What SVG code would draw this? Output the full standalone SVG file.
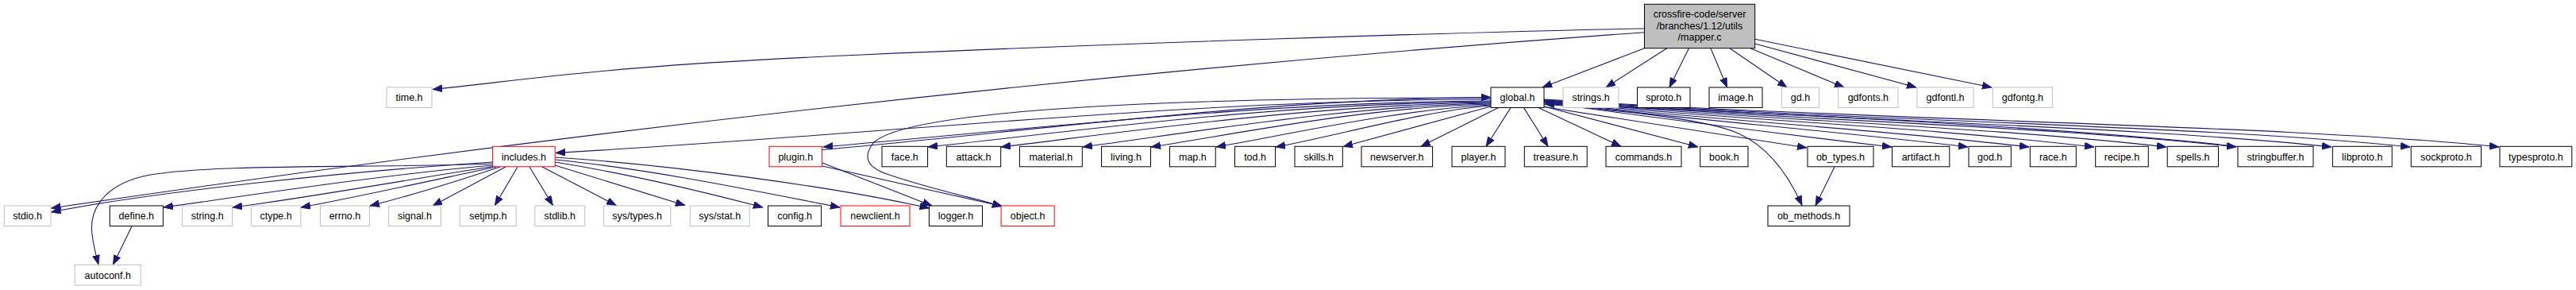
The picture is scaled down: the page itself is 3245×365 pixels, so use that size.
<svg xmlns="http://www.w3.org/2000/svg" width="3245" height="365" viewBox="0 0 3245 365">
<style>
rect{fill:#fff;stroke:#000;stroke-width:1}
.g rect{stroke:#bfbfbf}
.r rect{stroke:#ff0000}
.m rect{fill:#bfbfbf;stroke:#000}
text{font-family:"Liberation Sans",Arial,sans-serif;font-size:12.5px;text-anchor:middle;fill:#000}
#edges path{fill:none;stroke:#191970;stroke-width:1.1;marker-end:url(#a)}
</style>
<defs>
<marker id="a" markerUnits="userSpaceOnUse" markerWidth="13" markerHeight="10" refX="12" refY="4.5" orient="auto"><path d="M0,0 L12,4.5 L0,9 z" fill="#191970" stroke="#191970" stroke-width="0.8"/></marker>
</defs>
<rect x="0" y="0" width="3245" height="365" style="fill:#fff;stroke:none"/>
<g id="edges">
<path d="M2071.5,36 C1850,40 1400,55 1085,69 S700,96 545,112.5"/>
<path d="M2071.5,40.7 Q1100,110 64.5,262"/>
<path d="M2071.5,60.7 L1943,110"/>
<path d="M2099.7,60.7 L2023,110"/>
<path d="M2127.5,60.7 L2103,110"/>
<path d="M2155,60.7 L2175.6,110"/>
<path d="M2179,60.7 L2251,110"/>
<path d="M2205,60.7 L2323,110"/>
<path d="M2210.7,55 L2414,110"/>
<path d="M2210.7,49.3 L2509,110"/>
<path d="M1878,125 C1500,125 1100,170 700,192.5"/>
<path d="M1878,127 C1600,128 1300,162 1037,185"/>
<path d="M1036,188.5 C1300,165 1600,124 1878,122.5"/>
<path d="M1878,128 C1600,130 1350,166 1169,185"/>
<path d="M1878,129 C1650,132 1420,166 1261,185"/>
<path d="M1878,130 C1700,133 1500,167 1364,185"/>
<path d="M1878,131 C1720,135 1560,168 1450,185"/>
<path d="M1878,132 C1760,138 1620,170 1532,185"/>
<path d="M1878,133 C1790,140 1680,172 1607,185"/>
<path d="M1878,123 C1600,123 1150,130 1100,180 C1085,200 1095,212 1120,220 C1180,240 1230,250 1262,259.5"/>
<path d="M1878,134 L1692,184.5"/>
<path d="M1887.6,135.6 L1790,184.3"/>
<path d="M1903,135.6 L1872,184.3"/>
<path d="M1919.6,135.6 L1950,184.3"/>
<path d="M1938,135.6 L2042,184.3"/>
<path d="M1945,134 L2139,185"/>
<path d="M1945,134.5 L2276,186"/>
<path d="M1945,131 C2050,140 2150,150 2190,168 C2230,186 2255,225 2270,258.5"/>
<path d="M1945,129 C2098,150 2230,167 2383,185"/>
<path d="M1945,128.5 C2132,151 2292,163 2479,185"/>
<path d="M1945,128 C2159,152 2342,160 2556,185"/>
<path d="M1945,127.5 C2188,152 2395,157 2638,185"/>
<path d="M1945,127 C2219,152 2479,157 2729,185"/>
<path d="M1945,126.5 C2250,152 2567,157 2817,185"/>
<path d="M1945,126 C2292,152 2687,158 2937,185"/>
<path d="M1945,125.5 C2327,152 2786,158 3036,185"/>
<path d="M1945,125 C2366,152 2898,158 3148,185"/>
<path d="M2820,184.5 C2600,160 2200,140 1946,131"/>
<path d="M620.6,204 C450,215 200,240 64.5,267"/>
<path d="M620.6,206 C480,212 260,205 180,222 C130,234 112,265 116,295 C118,310 121,322 124,333"/>
<path d="M620.6,208 C480,220 300,248 206,261"/>
<path d="M621,209.5 C520,225 380,250 293,261"/>
<path d="M625,210 C540,228 440,250 379,261"/>
<path d="M630,210 C570,230 510,248 466,259"/>
<path d="M637,210 L545,259"/>
<path d="M652,210 L623.4,258.5"/>
<path d="M667,210 L696.4,258.5"/>
<path d="M683,210 L776.4,258.5"/>
<path d="M699,208 L863,258.5"/>
<path d="M699.2,204 C800,220 900,245 961,261"/>
<path d="M699.2,201 C820,213 950,240 1058,261"/>
<path d="M699.2,198 C850,208 1050,235 1170.5,262"/>
<path d="M1036,205 L1174,259"/>
<path d="M1036,209 L1262,259.5"/>
<path d="M166,285 L142.5,333"/>
<path d="M2311,210 L2287,259"/>
</g>
<g id="mapper_c" class="m"><rect x="2071.5" y="5.3" width="139.2" height="55.4"/><text x="2141" y="22">crossfire-code/server</text><text x="2141" y="36.5">/branches/1.12/utils</text><text x="2141" y="51">/mapper.c</text></g>
<g id="time_h" class="g"><rect x="487" y="110" width="57" height="25.5"/><text x="515.5" y="127">time.h</text></g>
<g id="global_h"><rect x="1878" y="110" width="67" height="25.5"/><text x="1911.5" y="127">global.h</text></g>
<g id="strings_h" class="g"><rect x="1969" y="110" width="70" height="25.5"/><text x="2004" y="127">strings.h</text></g>
<g id="sproto_h"><rect x="2062.5" y="110" width="66.5" height="25.5"/><text x="2095.75" y="127">sproto.h</text></g>
<g id="image_h"><rect x="2153" y="110" width="67" height="25.5"/><text x="2186.5" y="127">image.h</text></g>
<g id="gd_h" class="g"><rect x="2244.5" y="110" width="47" height="25.5"/><text x="2268" y="127">gd.h</text></g>
<g id="gdfonts_h" class="g"><rect x="2315.7" y="110" width="75.3" height="25.5"/><text x="2353.35" y="127">gdfonts.h</text></g>
<g id="gdfontl_h" class="g"><rect x="2415" y="110" width="71" height="25.5"/><text x="2450.5" y="127">gdfontl.h</text></g>
<g id="gdfontg_h" class="g"><rect x="2510.4" y="110" width="75" height="25.5"/><text x="2547.9" y="127">gdfontg.h</text></g>
<g id="includes_h" class="r"><rect x="620.6" y="184.3" width="78.6" height="25.5"/><text x="659.9" y="201.5">includes.h</text></g>
<g id="plugin_h" class="r"><rect x="969" y="184.3" width="66.6" height="25.5"/><text x="1002.3" y="201.5">plugin.h</text></g>
<g id="face_h"><rect x="1111" y="184.3" width="57.6" height="25.5"/><text x="1139.8" y="201.5">face.h</text></g>
<g id="attack_h"><rect x="1192.3" y="184.3" width="68.4" height="25.5"/><text x="1226.5" y="201.5">attack.h</text></g>
<g id="material_h"><rect x="1284.4" y="184.3" width="78.9" height="25.5"/><text x="1323.85" y="201.5">material.h</text></g>
<g id="living_h"><rect x="1387.6" y="184.3" width="61.9" height="25.5"/><text x="1418.55" y="201.5">living.h</text></g>
<g id="map_h"><rect x="1473.5" y="184.3" width="57.7" height="25.5"/><text x="1502.35" y="201.5">map.h</text></g>
<g id="tod_h"><rect x="1555.5" y="184.3" width="51.1" height="25.5"/><text x="1581.05" y="201.5">tod.h</text></g>
<g id="skills_h"><rect x="1631" y="184.3" width="60.3" height="25.5"/><text x="1661.15" y="201.5">skills.h</text></g>
<g id="newserver_h"><rect x="1715" y="184.3" width="89.6" height="25.5"/><text x="1759.8" y="201.5">newserver.h</text></g>
<g id="player_h"><rect x="1829" y="184.3" width="67" height="25.5"/><text x="1862.5" y="201.5">player.h</text></g>
<g id="treasure_h"><rect x="1920.3" y="184.3" width="78.9" height="25.5"/><text x="1959.75" y="201.5">treasure.h</text></g>
<g id="commands_h"><rect x="2023" y="184.3" width="95" height="25.5"/><text x="2070.5" y="201.5">commands.h</text></g>
<g id="book_h"><rect x="2141.7" y="184.3" width="60.3" height="25.5"/><text x="2171.85" y="201.5">book.h</text></g>
<g id="ob_types_h"><rect x="2277" y="184.3" width="83" height="25.5"/><text x="2318.5" y="201.5">ob_types.h</text></g>
<g id="artifact_h"><rect x="2383.5" y="184.3" width="72.3" height="25.5"/><text x="2419.65" y="201.5">artifact.h</text></g>
<g id="god_h"><rect x="2480" y="184.3" width="53.3" height="25.5"/><text x="2506.65" y="201.5">god.h</text></g>
<g id="race_h"><rect x="2557.3" y="184.3" width="58" height="25.5"/><text x="2586.3" y="201.5">race.h</text></g>
<g id="recipe_h"><rect x="2639.7" y="184.3" width="66.6" height="25.5"/><text x="2673" y="201.5">recipe.h</text></g>
<g id="spells_h"><rect x="2730.2" y="184.3" width="64.3" height="25.5"/><text x="2762.35" y="201.5">spells.h</text></g>
<g id="stringbuffer_h"><rect x="2819" y="184.3" width="95" height="25.5"/><text x="2866.5" y="201.5">stringbuffer.h</text></g>
<g id="libproto_h"><rect x="2938.4" y="184.3" width="74.8" height="25.5"/><text x="2975.8" y="201.5">libproto.h</text></g>
<g id="sockproto_h"><rect x="3037.2" y="184.3" width="88.3" height="25.5"/><text x="3081.35" y="201.5">sockproto.h</text></g>
<g id="typesproto_h"><rect x="3149" y="184.3" width="90.8" height="25.5"/><text x="3194.4" y="201.5">typesproto.h</text></g>
<g id="stdio_h" class="g"><rect x="5.2" y="259" width="58.8" height="25.5"/><text x="34.6" y="276">stdio.h</text></g>
<g id="define_h"><rect x="138.3" y="259" width="67.1" height="25.5"/><text x="171.85" y="276">define.h</text></g>
<g id="string_h" class="g"><rect x="229.7" y="259" width="63" height="25.5"/><text x="261.2" y="276">string.h</text></g>
<g id="ctype_h" class="g"><rect x="316.3" y="259" width="62.6" height="25.5"/><text x="347.6" y="276">ctype.h</text></g>
<g id="errno_h" class="g"><rect x="403.5" y="259" width="61.9" height="25.5"/><text x="434.45" y="276">errno.h</text></g>
<g id="signal_h" class="g"><rect x="489.7" y="259" width="65.6" height="25.5"/><text x="522.5" y="276">signal.h</text></g>
<g id="setjmp_h" class="g"><rect x="579.3" y="259" width="70.9" height="25.5"/><text x="614.75" y="276">setjmp.h</text></g>
<g id="stdlib_h" class="g"><rect x="673.8" y="259" width="62.9" height="25.5"/><text x="705.25" y="276">stdlib.h</text></g>
<g id="sys_types_h" class="g"><rect x="760.4" y="259" width="84.4" height="25.5"/><text x="802.6" y="276">sys/types.h</text></g>
<g id="sys_stat_h" class="g"><rect x="869.2" y="259" width="75" height="25.5"/><text x="906.7" y="276">sys/stat.h</text></g>
<g id="config_h"><rect x="967.5" y="259" width="67.1" height="25.5"/><text x="1001.05" y="276">config.h</text></g>
<g id="newclient_h" class="r"><rect x="1059" y="259" width="87" height="25.5"/><text x="1102.5" y="276">newclient.h</text></g>
<g id="logger_h"><rect x="1170.4" y="259" width="67.1" height="25.5"/><text x="1203.95" y="276">logger.h</text></g>
<g id="object_h" class="r"><rect x="1261.1" y="259" width="67.1" height="25.5"/><text x="1294.65" y="276">object.h</text></g>
<g id="ob_methods_h"><rect x="2227" y="259" width="103" height="25.5"/><text x="2278.5" y="276">ob_methods.h</text></g>
<g id="autoconf_h" class="g"><rect x="94.2" y="333.3" width="83.1" height="25.7"/><text x="135.75" y="350.5">autoconf.h</text></g>
</svg>
